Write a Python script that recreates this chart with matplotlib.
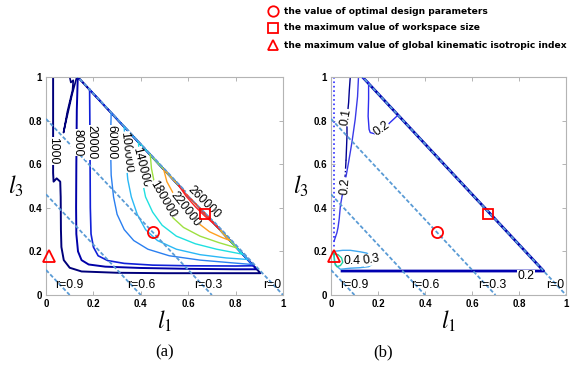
import matplotlib
matplotlib.use("Agg")
import matplotlib.pyplot as plt
from matplotlib.lines import Line2D

plt.rcParams["mathtext.fontset"] = "stix"

# dashed lines of constant r : l1 + 0.866*l3 = 1 - r
r_vals = ["0.9", "0.6", "0.3", "0"]
r_l1_cut = [0.1, 0.4, 0.7, 1.0]
r_l3_cut = [0.115, 0.462, 0.808, 1.155]

# special design points (l1, l3)
opt_point = (0.45, 0.29)
ws_max_point = (0.67, 0.37)
gkii_max_point = (0.012, 0.18)

# (a) workspace size contours
ws_levels = [1000, 8000, 20000, 60000, 100000, 140000, 180000, 220000, 260000]
ws_1000_l1 = [0.03, 0.03, 0.032, 0.045, 0.06, 0.062, 0.063, 0.065, 0.075, 0.10, 0.15, 0.3, 0.5, 0.7, 0.905, 0.134]
ws_1000_l3 = [1.0, 0.56, 0.52, 0.535, 0.52, 0.45, 0.30, 0.22, 0.16, 0.125, 0.108, 0.102, 0.10, 0.10, 0.10, 1.0]
ws_1000b_l1 = [0.10, 0.105, 0.115, 0.112, 0.09, 0.074, 0.085, 0.11, 0.13]
ws_1000b_l3 = [1.0, 0.975, 0.985, 0.94, 0.84, 0.745, 0.80, 0.92, 1.0]
ws_8000_l1 = [0.134, 0.13, 0.128, 0.127, 0.128, 0.135, 0.15, 0.18, 0.25, 0.4, 0.6, 0.8, 0.889, 0.134]
ws_8000_l3 = [1.0, 0.85, 0.6, 0.4, 0.28, 0.2, 0.16, 0.14, 0.13, 0.124, 0.12, 0.118, 0.118, 1.0]
ws_20000_l1 = [0.184, 0.185, 0.186, 0.187, 0.19, 0.2, 0.22, 0.26, 0.33, 0.45, 0.6, 0.8, 0.875, 0.184]
ws_20000_l3 = [0.943, 0.8, 0.6, 0.4, 0.28, 0.22, 0.18, 0.158, 0.145, 0.137, 0.134, 0.133, 0.134, 0.943]
ws_60000_l1 = [0.275, 0.272, 0.275, 0.285, 0.30, 0.33, 0.37, 0.43, 0.52, 0.65, 0.78, 0.87, 0.275]
ws_60000_l3 = [0.836, 0.7, 0.55, 0.45, 0.37, 0.30, 0.25, 0.21, 0.18, 0.16, 0.148, 0.14, 0.836]
ws_100000_l1 = [0.33, 0.335, 0.345, 0.36, 0.385, 0.42, 0.47, 0.55, 0.65, 0.76, 0.851, 0.33]
ws_100000_l3 = [0.772, 0.65, 0.53, 0.45, 0.37, 0.30, 0.25, 0.21, 0.185, 0.17, 0.163, 0.772]
ws_140000_l1 = [0.39, 0.395, 0.405, 0.42, 0.45, 0.49, 0.55, 0.63, 0.72, 0.83, 0.39]
ws_140000_l3 = [0.702, 0.62, 0.53, 0.45, 0.38, 0.32, 0.27, 0.235, 0.21, 0.187, 0.702]
ws_180000_l1 = [0.44, 0.445, 0.46, 0.49, 0.53, 0.58, 0.65, 0.73, 0.805, 0.44]
ws_180000_l3 = [0.643, 0.58, 0.50, 0.42, 0.36, 0.31, 0.27, 0.24, 0.216, 0.643]
ws_220000_l1 = [0.496, 0.51, 0.54, 0.58, 0.63, 0.69, 0.74, 0.776, 0.496]
ws_220000_l3 = [0.578, 0.52, 0.46, 0.40, 0.34, 0.29, 0.265, 0.25, 0.578]
ws_260000_l1 = [0.56, 0.59, 0.63, 0.67, 0.71, 0.734, 0.56]
ws_260000_l3 = [0.503, 0.455, 0.405, 0.362, 0.325, 0.30, 0.503]

# (b) global kinematic isotropic index contours
gk_levels = [0.1, 0.2, 0.3, 0.4]
gk_edge_l1 = [0.134, 0.905, 0.047]
gk_edge_l3 = [1.0, 0.11, 0.11]
gk_01_l1 = [0.082, 0.078, 0.075, 0.068, 0.068, 0.064]
gk_01_l3 = [1.0, 0.94, 0.883, 0.806, 0.73, 0.62]
gk_01b_l1 = [0.064, 0.062, 0.06]
gk_01b_l3 = [0.62, 0.58, 0.54]
gk_02a_l1 = [0.117, 0.113, 0.103, 0.089, 0.075, 0.065, 0.05, 0.04, 0.035, 0.03, 0.025, 0.014]
gk_02a_l3 = [1.0, 0.91, 0.806, 0.70, 0.61, 0.55, 0.47, 0.41, 0.35, 0.31, 0.285, 0.25]
gk_02b_l1 = [0.13, 0.16, 0.16, 0.158, 0.162, 0.167, 0.195, 0.22, 0.25, 0.282]
gk_02b_l3 = [1.0, 0.975, 0.9, 0.82, 0.76, 0.745, 0.737, 0.755, 0.79, 0.822]
gk_03_l1 = [0.011, 0.05, 0.082, 0.125, 0.153, 0.18, 0.175, 0.16, 0.12, 0.082, 0.04, 0.018, 0.011]
gk_03_l3 = [0.20, 0.205, 0.205, 0.198, 0.192, 0.16, 0.14, 0.13, 0.125, 0.123, 0.118, 0.138, 0.20]
gk_04_l1 = [0.012, 0.03, 0.045, 0.05, 0.04, 0.025, 0.015, 0.012]
gk_04_l3 = [0.19, 0.185, 0.17, 0.15, 0.135, 0.13, 0.15, 0.19]
gk_dot_l1 = [0.011, 0.011]
gk_dot_l3 = [1.0, 0.22]

tick_vals = [0, 0.2, 0.4, 0.6, 0.8, 1]
tick_text = ["0", "0.2", "0.4", "0.6", "0.8", "1"]

W, H = 576, 372
fig = plt.figure(figsize=(W / 100, H / 100), dpi=100)
ax1 = fig.add_axes([46 / W, 77 / H, 237 / W, 218 / H])
ax2 = fig.add_axes([331 / W, 77 / H, 235 / W, 218 / H])

lab_font = dict(family="Liberation Sans", fontsize=8.8, color="black")
box = dict(facecolor="white", edgecolor="none", pad=0.1)

for ax in (ax1, ax2):
    ax.set_xlim(0, 1)
    ax.set_ylim(0, 1)
    ax.set_xticks(tick_vals)
    ax.set_yticks(tick_vals)
    ax.set_xticklabels(tick_text, family="Liberation Sans", fontsize=7, fontweight="bold")
    ax.set_yticklabels(tick_text, family="Liberation Sans", fontsize=7, fontweight="bold")
    ax.tick_params(direction="in", length=3, width=0.6, color="#a8a8a8",
                   top=True, right=True, pad=3)
    for sp in ax.spines.values():
        sp.set_color("#b4b4b4")
        sp.set_linewidth(0.8)
    # r = const dashed lines
    for r, a, b in zip(r_vals, r_l1_cut, r_l3_cut):
        ax.plot([0, a], [b, 0], ls=(0, (2.2, 1.2)), color="#5a9bd5", lw=1.3, zorder=3)
    for r, x in zip(r_vals, [0.1, 0.4, 0.685, 0.955]):
        ax.text(x, 0.045, "r=" + r, ha="center", va="center",
                family="Liberation Sans", fontsize=8.8, zorder=6)
    ax.set_xlabel(r"$l_1$", fontsize=17, labelpad=0)
    ax.set_ylabel(r"$l_3$", fontsize=17, rotation=0, labelpad=9, va="center")

# ---- (a) workspace size
ws_paths = [(ws_1000_l1, ws_1000_l3, "#00007a", 1.4),
            (ws_1000b_l1, ws_1000b_l3, "#00007a", 1.2),
            (ws_8000_l1, ws_8000_l3, "#0000a8", 1.4),
            (ws_20000_l1, ws_20000_l3, "#1020d8", 1.2),
            (ws_60000_l1, ws_60000_l3, "#2a7ff0", 1.0),
            (ws_100000_l1, ws_100000_l3, "#2ab8f5", 1.0),
            (ws_140000_l1, ws_140000_l3, "#20e0e0", 1.0),
            (ws_180000_l1, ws_180000_l3, "#9ee040", 1.0),
            (ws_220000_l1, ws_220000_l3, "#ffa020", 1.0),
            (ws_260000_l1, ws_260000_l3, "#ff2020", 1.0)]
for x, y, c, lw in ws_paths:
    ax1.plot(x, y, color=c, lw=lw, zorder=2)

ws_lab_pos = [(0.032, 0.66, -90), (0.131, 0.70, -90), (0.19, 0.70, -90), (0.274, 0.70, -90),
              (0.338, 0.655, -84), (0.40, 0.585, -76), (0.492, 0.44, -60),
              (0.59, 0.395, -52), (0.668, 0.425, -45)]
for lev, (x, y, rot) in zip(ws_levels, ws_lab_pos):
    ax1.text(x, y, str(lev), rotation=rot, ha="center", va="center",
             rotation_mode="anchor", bbox=box, zorder=4, **lab_font)

# ---- (b) global kinematic isotropic index
ax2.plot(gk_edge_l1, gk_edge_l3, color="#0000b0", lw=2.0, zorder=2)
ax2.plot(gk_01_l1, gk_01_l3, color="#000090", lw=1.0, zorder=2)
ax2.plot(gk_01b_l1, gk_01b_l3, color="#000090", lw=1.0, ls="-.", zorder=2)
ax2.plot(gk_02a_l1, gk_02a_l3, color="#3a3ae8", lw=1.0, zorder=2)
ax2.plot(gk_02b_l1, gk_02b_l3, color="#2e2ef0", lw=1.0, zorder=2)
ax2.plot(gk_03_l1, gk_03_l3, color="#40a8f0", lw=1.0, zorder=2)
ax2.plot(gk_04_l1, gk_04_l3, color="#20d0a0", lw=1.0, zorder=2)
ax2.plot(gk_dot_l1, gk_dot_l3, color="#2b2bff", lw=1.2, ls=":", zorder=2)

gk_labels = ["0.1", "0.2", "0.2", "0.4", "0.3", "0.2"]
gk_lab_pos = [(0.062, 0.815, 80), (0.06, 0.5, 85), (0.215, 0.762, 35),
              (0.09, 0.155, 0), (0.172, 0.163, 10), (0.83, 0.085, 0)]
for t, (x, y, rot) in zip(gk_labels, gk_lab_pos):
    ax2.text(x, y, t, rotation=rot, ha="center", va="center",
             rotation_mode="anchor", bbox=box, zorder=4, **lab_font)

# markers on both plots
for ax in (ax1, ax2):
    ax.plot(*opt_point, marker="o", ms=8, mfc="none", mec="red", mew=1.3, zorder=7, clip_on=False)
    ax.plot(*ws_max_point, marker="s", ms=7.5, mfc="none", mec="red", mew=1.3, zorder=7, clip_on=False)
    ax.plot(*gkii_max_point, marker="^", ms=9, mfc="none", mec="red", mew=1.3, zorder=7, clip_on=False)

# legend on top
leg_text = ["the value of optimal design parameters",
            "the maximum value of workspace size",
            "the maximum value of global kinematic isotropic index"]
leg_mark = ["o", "s", "^"]
for i, (m, t) in enumerate(zip(leg_mark, leg_text)):
    yy = 1 - (11 + 17 * i) / H
    fig.add_artist(Line2D([273 / W], [yy], transform=fig.transFigure, marker=m,
                          ms=7.5, mfc="none", mec="red", mew=1.3))
    fig.text(284 / W, yy, t, ha="left", va="center", fontsize=6.6,
             fontweight="bold", family="DejaVu Sans")

fig.text(165 / W, 1 - 352 / H, "(a)", ha="center", va="center", fontsize=12,
         family="Liberation Serif")
fig.text(383 / W, 1 - 352 / H, "(b)", ha="center", va="center", fontsize=12,
         family="Liberation Serif")

fig.savefig("out.png", dpi=100)
